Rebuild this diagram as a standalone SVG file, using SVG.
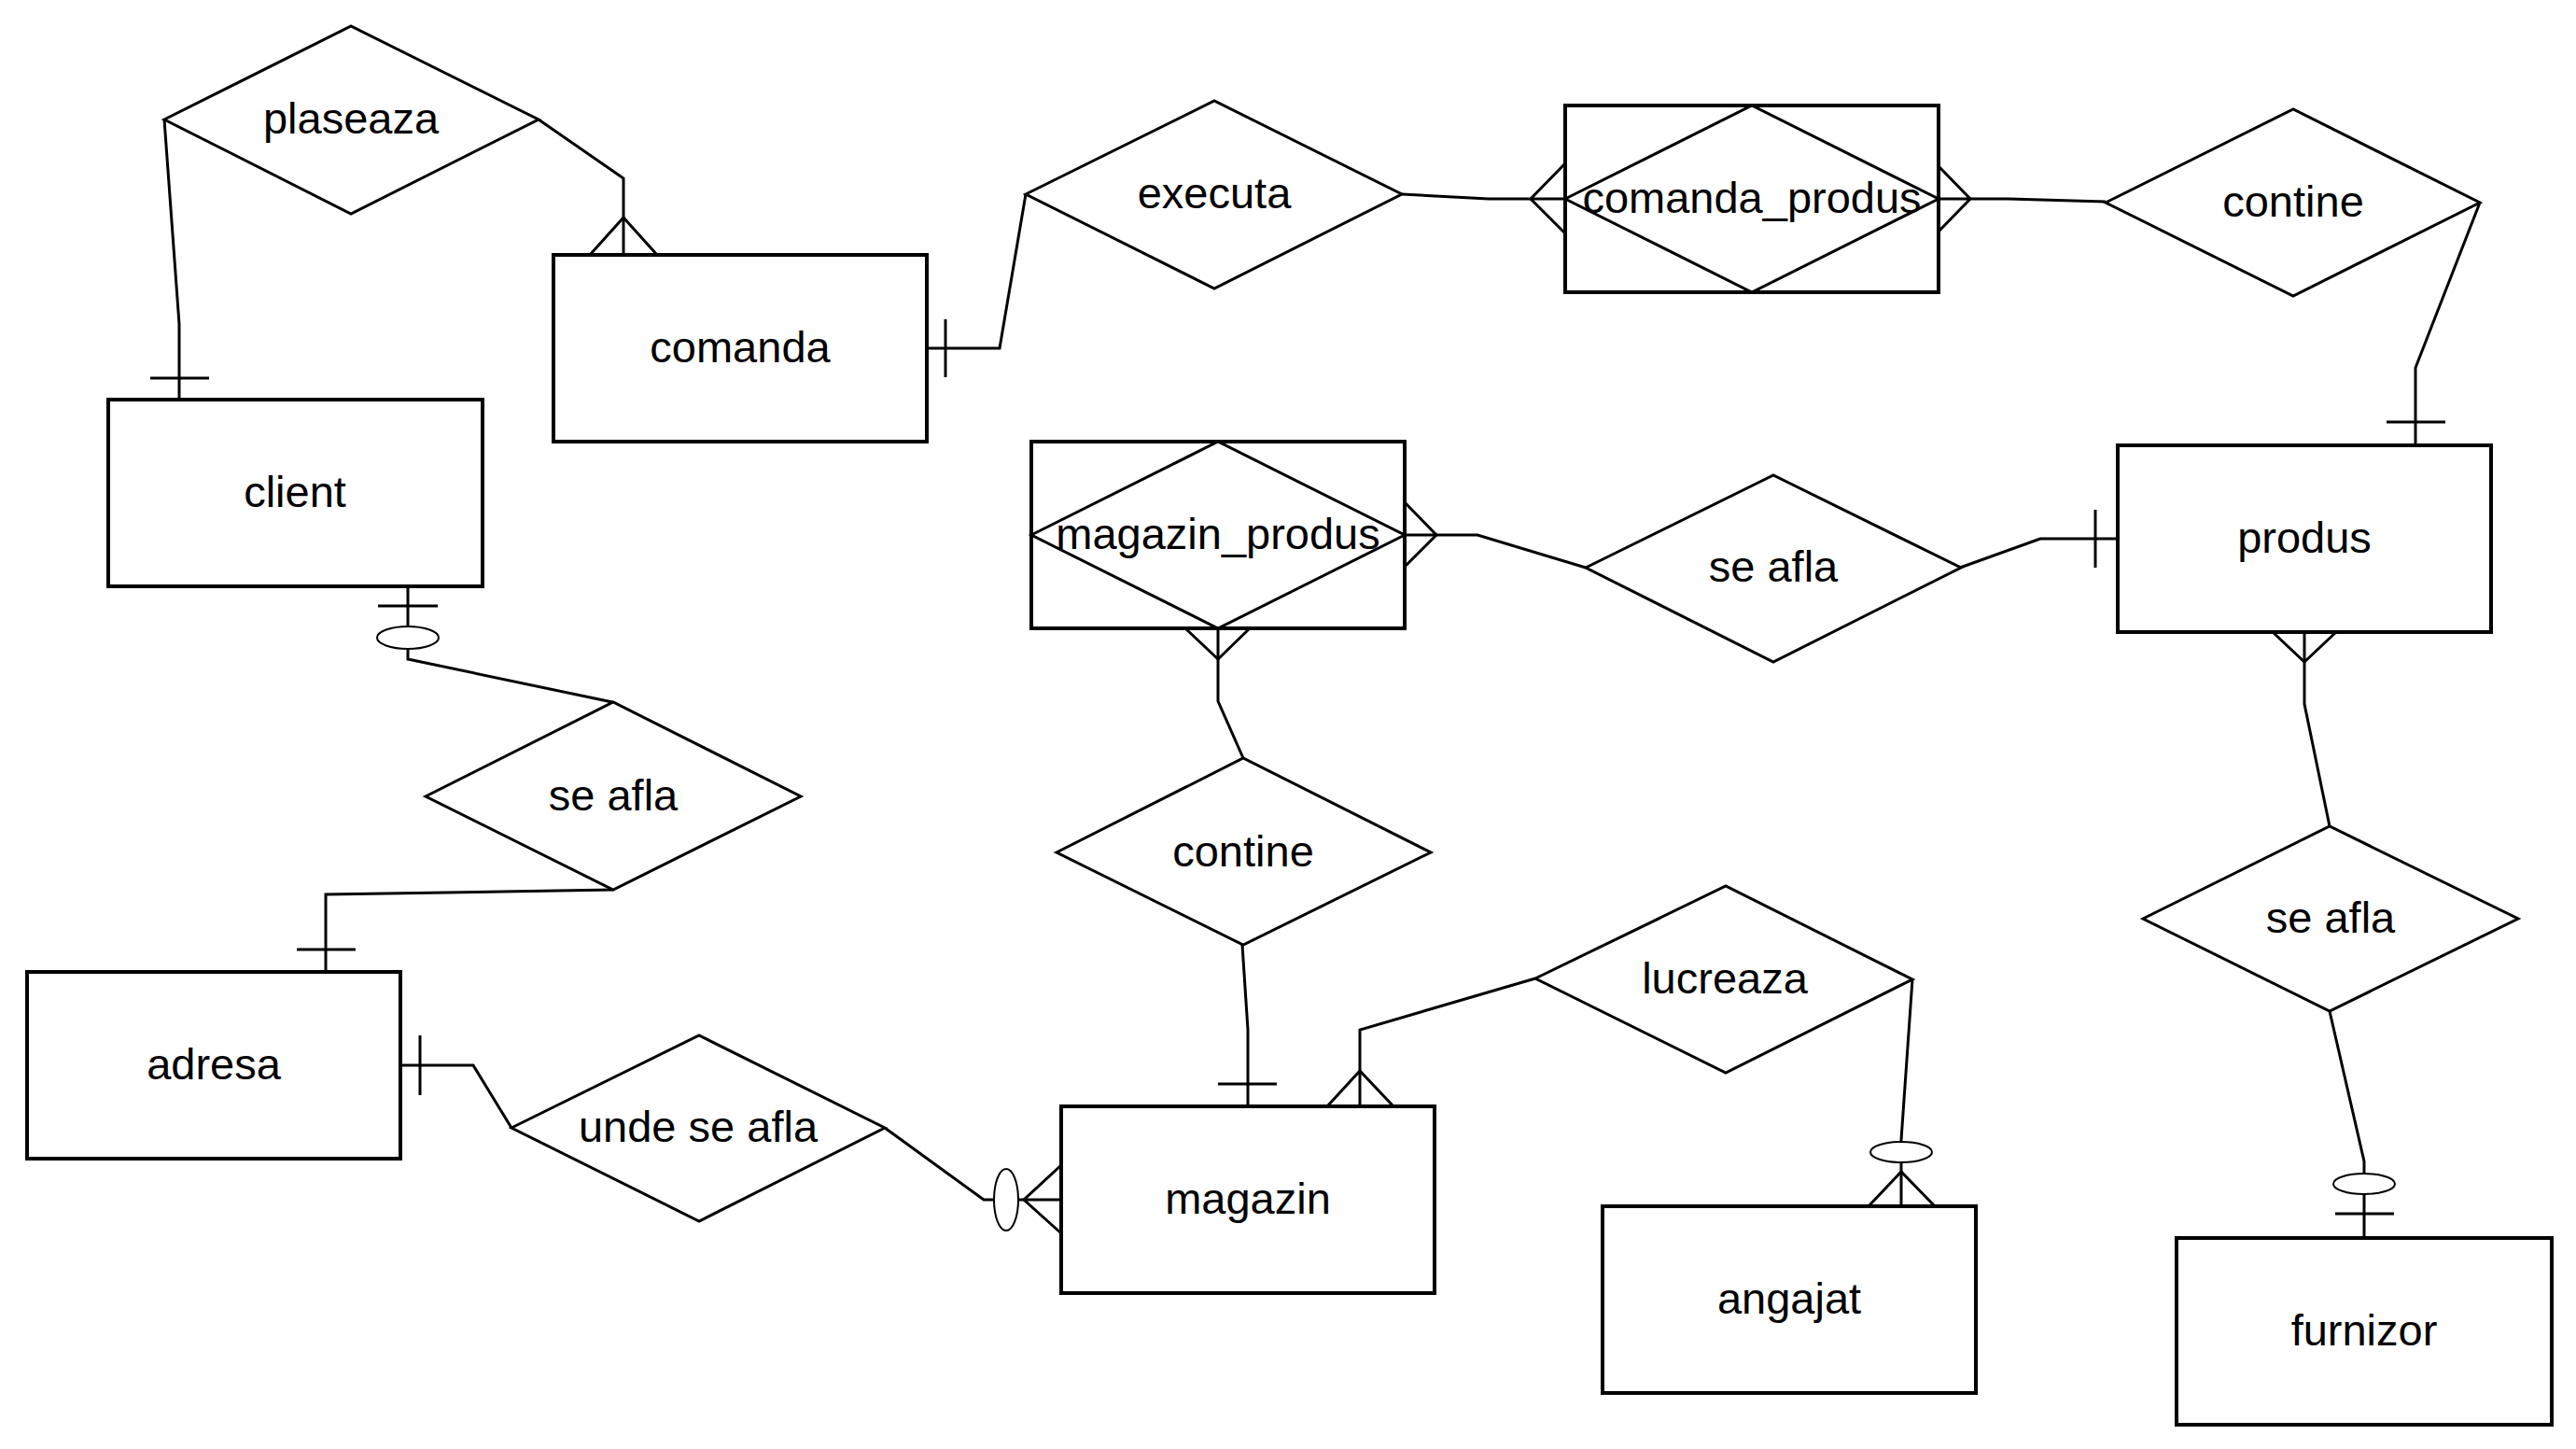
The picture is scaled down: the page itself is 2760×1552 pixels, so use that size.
<svg xmlns="http://www.w3.org/2000/svg" width="2760" height="1552" viewBox="0 0 2760 1552">
<style>
.box{fill:#fff;stroke:#000;stroke-width:4}
.rel{fill:#fff;stroke:#000;stroke-width:3}
.in{fill:none;stroke:#000;stroke-width:3}
.ln{fill:none;stroke:#000;stroke-width:3;stroke-linejoin:miter}
.opt{fill:#fff;stroke:#000;stroke-width:2}
text{font-family:"Liberation Sans",Arial,sans-serif;font-size:47px;fill:#000;text-anchor:middle}
</style>
<rect width="2760" height="1552" fill="#fff"/>
<g id="connectors">
<polyline class="ln" points="176,128 192,347 192,428"/>
<line class="ln" x1="161" y1="405" x2="224" y2="405"/>
<polyline class="ln" points="577,128 668,191 668,273"/>
<polyline class="ln" points="632,273 668,233 704,273"/>
<polyline class="ln" points="993,373 1071,373 1099,208"/>
<line class="ln" x1="1013" y1="342" x2="1013" y2="404"/>
<polyline class="ln" points="1502,208 1595,213 1677,213"/>
<polyline class="ln" points="1677,175 1640,213 1677,250"/>
<polyline class="ln" points="2077,213 2152,213 2256,216"/>
<polyline class="ln" points="2077,178 2111,213 2077,248"/>
<polyline class="ln" points="2657,217 2588,394 2588,477"/>
<line class="ln" x1="2557" y1="452" x2="2620" y2="452"/>
<polyline class="ln" points="437,628 437,706 656,752"/>
<line class="ln" x1="405" y1="649" x2="469" y2="649"/>
<polyline class="ln" points="657,953 349,958 349,1041"/>
<line class="ln" x1="318" y1="1017" x2="381" y2="1017"/>
<polyline class="ln" points="429,1141 507,1141 548,1208"/>
<line class="ln" x1="450" y1="1109" x2="450" y2="1173"/>
<polyline class="ln" points="948,1208 1054,1285 1137,1285"/>
<polyline class="ln" points="1137,1248 1097,1285 1137,1321"/>
<polyline class="ln" points="1505,573 1583,573 1699,608"/>
<polyline class="ln" points="1505,538 1539,573 1505,607"/>
<polyline class="ln" points="2100,608 2186,577 2269,577"/>
<line class="ln" x1="2245" y1="546" x2="2245" y2="608"/>
<polyline class="ln" points="1305,673 1305,751 1332,812"/>
<polyline class="ln" points="1270,673 1305,706 1339,673"/>
<polyline class="ln" points="1331,1012 1337,1103 1337,1185"/>
<line class="ln" x1="1305" y1="1161" x2="1368" y2="1161"/>
<polyline class="ln" points="1645,1048 1457,1103 1457,1185"/>
<polyline class="ln" points="1422,1185 1457,1147 1493,1185"/>
<polyline class="ln" points="2049,1049 2037,1221 2037,1292"/>
<polyline class="ln" points="2002,1292 2037,1255 2073,1292"/>
<polyline class="ln" points="2469,677 2469,754 2496,885"/>
<polyline class="ln" points="2435,677 2469,709 2503,677"/>
<polyline class="ln" points="2496,1083 2533,1244 2533,1326"/>
<line class="ln" x1="2502" y1="1300" x2="2565" y2="1300"/>
<ellipse class="opt" cx="437" cy="683" rx="33" ry="12"/>
<ellipse class="opt" cx="1078" cy="1285" rx="13" ry="33"/>
<ellipse class="opt" cx="2037" cy="1234" rx="33" ry="11"/>
<ellipse class="opt" cx="2533" cy="1268" rx="33" ry="11"/>
</g>
<g id="plaseaza"><polygon class="rel" points="176,128 376,28 577,128 376,229"/><text x="376" y="143">plaseaza</text></g>
<g id="comanda"><rect class="box" x="593" y="273" width="400" height="200"/><text x="793" y="388">comanda</text></g>
<g id="client"><rect class="box" x="116" y="428" width="401" height="200"/><text x="316" y="543">client</text></g>
<g id="executa"><polygon class="rel" points="1099,208 1301,108 1502,208 1301,309"/><text x="1301" y="223">executa</text></g>
<g id="comanda_produs"><rect class="box" x="1677" y="113" width="400" height="200"/><polygon class="in" points="1677,213 1877,113 2077,213 1877,313"/><text x="1877" y="228">comanda_produs</text></g>
<g id="contine1"><polygon class="rel" points="2256,217 2457,117 2657,217 2457,317"/><text x="2457" y="232">contine</text></g>
<g id="magazin_produs"><rect class="box" x="1105" y="473" width="400" height="200"/><polygon class="in" points="1105,573 1305,473 1505,573 1305,673"/><text x="1305" y="588">magazin_produs</text></g>
<g id="se_afla_produs"><polygon class="rel" points="1699,608 1900,509 2101,608 1900,709"/><text x="1900" y="623">se afla</text></g>
<g id="produs"><rect class="box" x="2269" y="477" width="400" height="200"/><text x="2469" y="592">produs</text></g>
<g id="se_afla_client"><polygon class="rel" points="456,853 657,752 858,853 657,953"/><text x="657" y="868">se afla</text></g>
<g id="adresa"><rect class="box" x="29" y="1041" width="400" height="200"/><text x="229" y="1156">adresa</text></g>
<g id="unde_se_afla"><polygon class="rel" points="548,1208 749,1109 948,1208 749,1308"/><text x="748" y="1223">unde se afla</text></g>
<g id="contine2"><polygon class="rel" points="1132,913 1332,812 1533,913 1332,1012"/><text x="1332" y="928">contine</text></g>
<g id="lucreaza"><polygon class="rel" points="1645,1048 1849,949 2049,1049 1849,1149"/><text x="1848" y="1064">lucreaza</text></g>
<g id="magazin"><rect class="box" x="1137" y="1185" width="400" height="200"/><text x="1337" y="1300">magazin</text></g>
<g id="angajat"><rect class="box" x="1717" y="1292" width="400" height="200"/><text x="1917" y="1407">angajat</text></g>
<g id="se_afla_furnizor"><polygon class="rel" points="2296,984 2496,885 2698,984 2496,1083"/><text x="2497" y="999">se afla</text></g>
<g id="furnizor"><rect class="box" x="2332" y="1326" width="402" height="200"/><text x="2533" y="1441">furnizor</text></g>
</svg>
